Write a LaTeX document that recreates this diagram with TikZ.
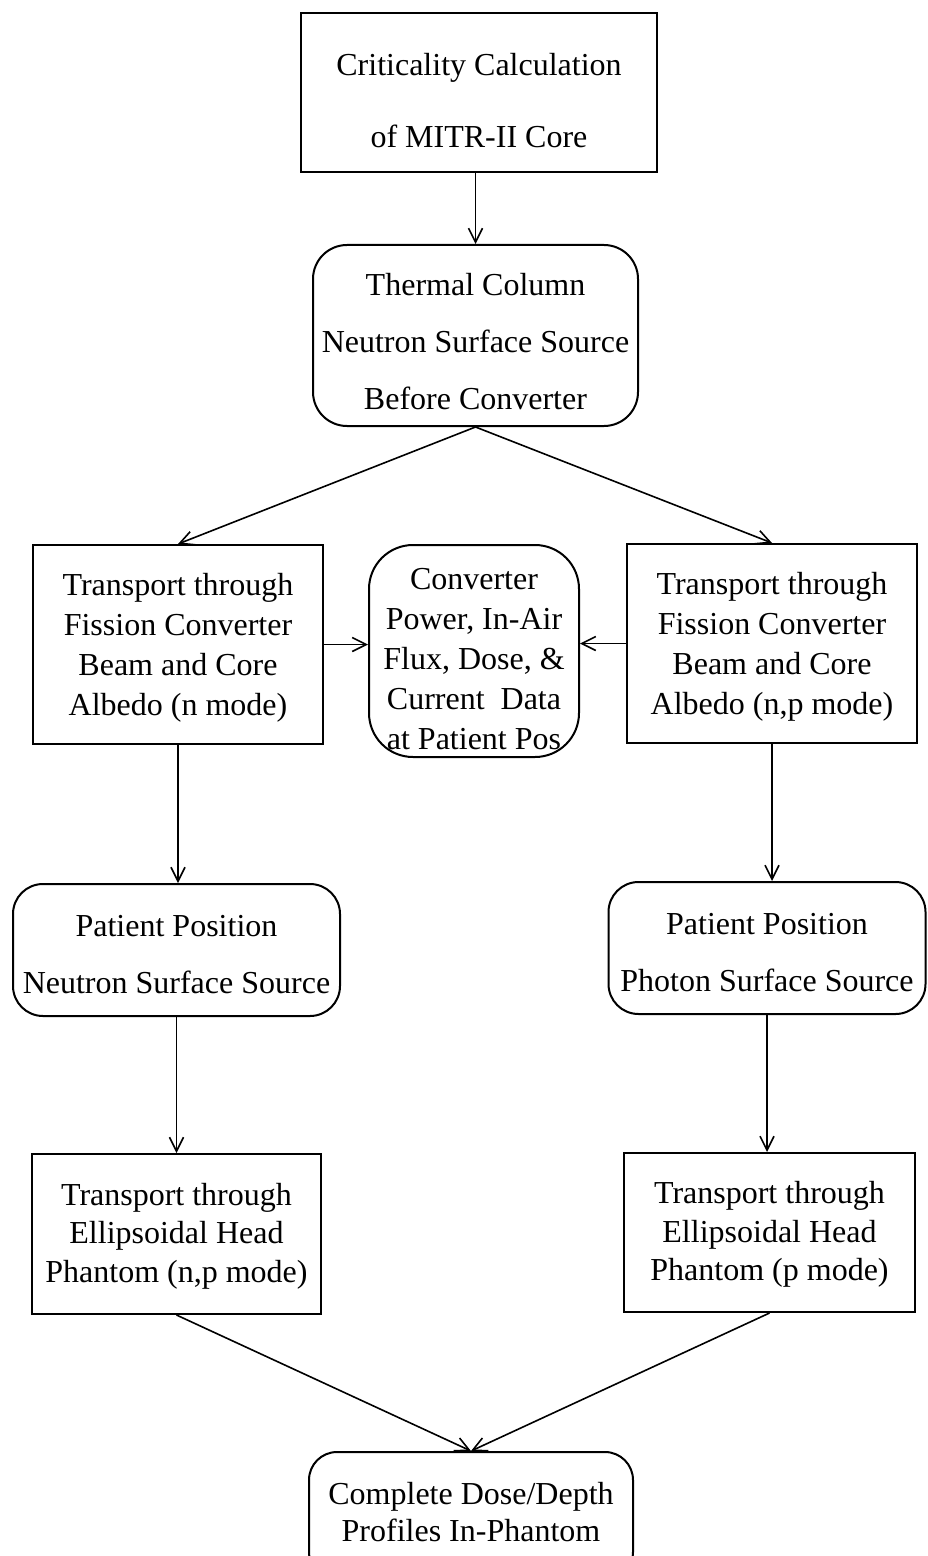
\documentclass[tikz,border=0pt]{standalone}
\usepackage{fontspec}
\setmainfont{Liberation Serif}
\usetikzlibrary{arrows.meta,calc}
\begin{document}
\begin{tikzpicture}[x=0.5pt,y=-0.5pt,
  box/.style={draw, line width=1pt, inner sep=0pt},
  rbox/.style={box, rounded corners=15pt},
  txt/.style={align=center, inner sep=0pt},
  arr/.style={-{Straight Barb[length=7pt,width=7pt]}, line width=0.8pt},
  fs/.style={font=\fontsize{16}{#1}\selectfont}]
\useasboundingbox (0,0) rectangle (927,1556);
\clip (0,0) rectangle (927,1556);
% shapes
\node[box, minimum width=178pt, minimum height=79.5pt] (crit) at (479,92.5) {};
\node[rbox, rounded corners=17pt, minimum width=162.5pt, minimum height=90.5pt] (therm) at (475.5,335.5) {};
\node[box, minimum width=145pt, minimum height=99.5pt] (tl) at (178,644.5) {};
\node[rbox, rounded corners=22pt, minimum width=105pt, minimum height=106pt] (conv) at (474,651) {};
\node[box, minimum width=145pt, minimum height=99.5pt] (tr) at (772,643.5) {};
\node[rbox, minimum width=163.5pt, minimum height=66pt] (pl) at (176.5,950) {};
\node[rbox, minimum width=158.5pt, minimum height=66pt] (pr) at (767,948) {};
\node[box, minimum width=144.5pt, minimum height=80pt] (el) at (176.5,1234) {};
\node[box, minimum width=145.5pt, minimum height=79.5pt] (er) at (769.5,1232.5) {};
\node[rbox, rounded corners=14pt, minimum width=162pt, minimum height=64pt] (fin) at (471,1516) {};
% texts
\node[txt, fs=36pt] (critt) at ($(crit)+(0,8)$) {Criticality Calculation\\of MITR-II Core};
\node[txt, fs=28.5pt] (thermt) at ($(therm)+(0,6)$) {Thermal Column\\Neutron Surface Source\\Before Converter};
\node[txt, fs=20pt] (tlt) at ($(tl)+(0,3)$) {Transport through\\Fission Converter\\Beam and Core\\Albedo (n mode)};
\node[txt, fs=20pt] (convt) at ($(conv)+(0,8)$) {Converter\\Power, In-Air\\Flux, Dose, \&\\Current\ \ Data\\at Patient Pos};
\node[txt, fs=20pt] (trt) at ($(tr)+(0,3)$) {Transport through\\Fission Converter\\Beam and Core\\Albedo (n,p mode)};
\node[txt, fs=28.5pt] (plt) at ($(pl)+(0,5)$) {Patient Position\\Neutron Surface Source};
\node[txt, fs=28.5pt] (prt) at ($(pr)+(0,5)$) {Patient Position\\Photon Surface Source};
\node[txt, fs=19.25pt] (elt) at ($(el)+(0,2)$) {Transport through\\Ellipsoidal Head\\Phantom (n,p mode)};
\node[txt, fs=19.25pt] (ert) at ($(er)+(0,2)$) {Transport through\\Ellipsoidal Head\\Phantom (p mode)};
\node[txt, fs=18.5pt] (fint) at ($(fin)+(0,-4)$) {Complete Dose/Depth\\Profiles In-Phantom};
% connectors
\draw[arr] (crit.south -| therm.north) -- (therm.north);
\draw[arr] (therm.south) -- (tl.north);
\draw[arr] (therm.south) -- (tr.north);
\draw[arr] (tl.east) -- (tl.east -| conv.west);
\draw[arr] (tr.west) -- (tr.west -| conv.east);
\draw[arr] (tl.south) -- (tl.south |- pl.north);
\draw[arr] (tr.south) -- (tr.south |- pr.north);
\draw[arr] (pl.south) -- (pl.south |- el.north);
\draw[arr] (pr.south) -- (pr.south |- er.north);
\draw[arr] (el.south) -- (fin.north);
\draw[arr] (er.south) -- (fin.north);
\end{tikzpicture}
\end{document}
